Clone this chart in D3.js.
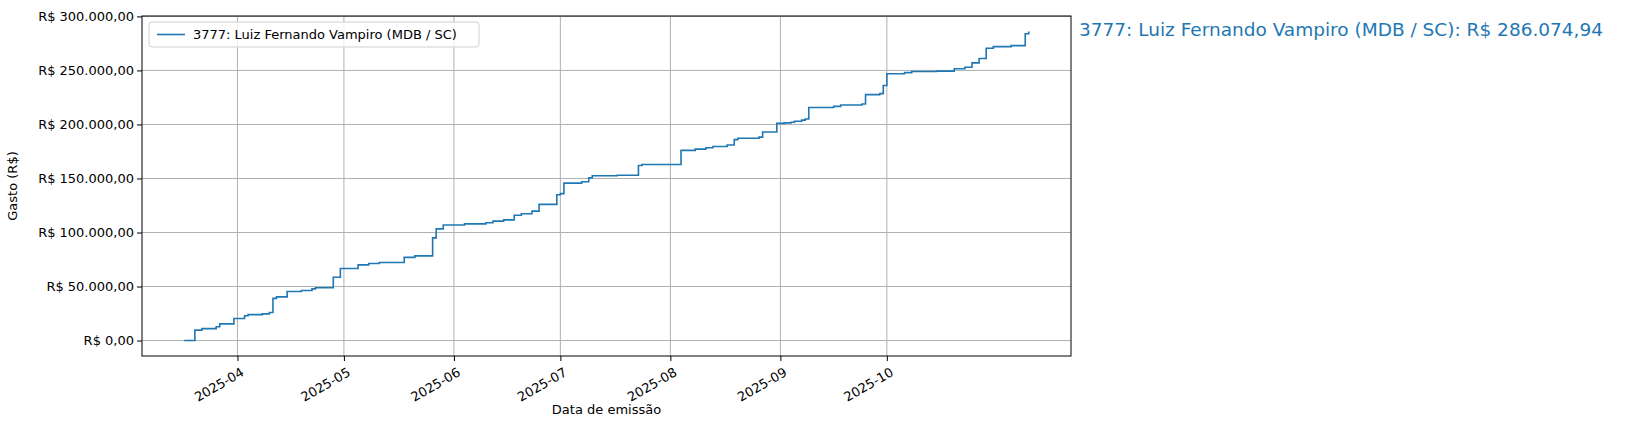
<!DOCTYPE html>
<html>
<head>
<meta charset="utf-8">
<script src="https://cdn.jsdelivr.net/npm/d3@7"></script>
<style>
  body { margin: 0; background: #fff; }
  text { font-family: "DejaVu Sans", sans-serif; }
</style>
</head>
<body>
<div id="chart-area"></div>
<script>
// Data (cumulative spending, step after)
var dates = ["2025-03-17","2025-03-20","2025-03-22","2025-03-26","2025-03-27","2025-03-31",
  "2025-04-03","2025-04-04","2025-04-08","2025-04-10","2025-04-11","2025-04-12","2025-04-15",
  "2025-04-19","2025-04-22","2025-04-23","2025-04-28","2025-04-30",
  "2025-05-05","2025-05-08","2025-05-11","2025-05-18","2025-05-21","2025-05-26","2025-05-27","2025-05-29",
  "2025-06-04","2025-06-10","2025-06-12","2025-06-15","2025-06-18","2025-06-20","2025-06-23","2025-06-25","2025-06-30",
  "2025-07-01","2025-07-02","2025-07-07","2025-07-09","2025-07-10","2025-07-17","2025-07-23","2025-07-24",
  "2025-08-04","2025-08-08","2025-08-11","2025-08-13","2025-08-17","2025-08-19","2025-08-20","2025-08-26","2025-08-27","2025-08-31",
  "2025-09-02","2025-09-04","2025-09-05","2025-09-07","2025-09-08","2025-09-09","2025-09-16","2025-09-18","2025-09-24","2025-09-25","2025-09-29","2025-09-30",
  "2025-10-01","2025-10-06","2025-10-08","2025-10-15","2025-10-20","2025-10-23","2025-10-25","2025-10-27","2025-10-29","2025-10-31",
  "2025-11-05","2025-11-09","2025-11-10"];
var values = [0,9600,11000,12700,15400,20400,
  23000,24000,24700,26000,39000,40400,45400,
  46300,47800,48800,58600,66700,
  70000,71300,72200,77000,78400,95000,103400,107000,
  108000,109000,110500,111700,116000,117300,119800,126000,135000,
  136000,145700,147000,150600,152500,153000,162000,163000,
  176000,177200,178400,179600,181000,186000,187200,188300,193000,201000,
  201500,202000,203000,204000,205000,215700,216700,218000,219000,227600,228500,236000,
  246900,248000,249000,249400,251500,253000,257000,261000,270500,272000,
  273000,284000,286074.94];
var seriesName = "3777: Luiz Fernando Vampiro (MDB / SC)";
var totalLabel = "R$ 286.074,94";
var yTicks = [0,50000,100000,150000,200000,250000,300000];

var parse = d3.timeParse("%Y-%m-%d");
var data = dates.map((d, i) => ({ date: parse(d), value: values[i] }));

var W = 1641, H = 435;
var margin = { top: 16, right: 570, bottom: 79, left: 142 };
var width = W - margin.left - margin.right;
var height = H - margin.top - margin.bottom;

var svg = d3.select("#chart-area").append("svg")
  .attr("width", W).attr("height", H);
var g = svg.append("g")
  .attr("transform", "translate(" + margin.left + "," + margin.top + ")");

var x0 = d3.min(data, d => d.date), x1 = d3.max(data, d => d.date);
var padT = (x1 - x0) * 0.05;
var x = d3.scaleTime()
  .domain([new Date(+x0 - padT), new Date(+x1 + padT)])
  .range([0, width]);
var vMax = d3.max(values), padV = vMax * 0.05;
var y = d3.scaleLinear()
  .domain([-padV, vMax + padV])
  .range([height, 0]);

var fmtNum = d3.formatLocale({ decimal: ",", thousands: ".", grouping: [3], currency: ["R$ ", ""] }).format(",.2f");
var xTicks = d3.range(3, 10).map(m => new Date(2025, m, 1));

// grid
g.append("g").selectAll("line").data(xTicks).enter().append("line")
  .attr("x1", d => x(d)).attr("x2", d => x(d)).attr("y1", 0).attr("y2", height)
  .attr("stroke", "#b0b0b0").attr("stroke-width", 1);
g.append("g").selectAll("line").data(yTicks).enter().append("line")
  .attr("y1", d => y(d)).attr("y2", d => y(d)).attr("x1", 0).attr("x2", width)
  .attr("stroke", "#b0b0b0").attr("stroke-width", 1);

// axes
var bottomAxis = d3.axisBottom(x).tickValues(xTicks).tickFormat(d3.timeFormat("%Y-%m")).tickSizeOuter(0).tickSize(5);
g.append("g")
  .attr("transform", "translate(0," + height + ")")
  .call(bottomAxis)
  .call(a => a.select(".domain").remove())
  .selectAll("text")
  .attr("font-size", "13px")
  .attr("font-family", "DejaVu Sans")
  .attr("fill", "#000")
  .attr("text-anchor", "end")
  .attr("dy", "0")
  .attr("transform", "translate(3,12) rotate(-30)");

var leftAxis = d3.axisLeft(y).tickValues(yTicks).tickFormat(d => "R$ " + fmtNum(d)).tickSize(5).tickSizeOuter(0);
g.append("g")
  .call(leftAxis)
  .call(a => a.select(".domain").remove())
  .selectAll("text")
  .attr("font-size", "13px")
  .attr("font-family", "DejaVu Sans")
  .attr("fill", "#000");

g.append("rect").attr("width", width).attr("height", height)
  .attr("fill", "none").attr("stroke", "#000").attr("stroke-width", 1);

// line
var line = d3.line().curve(d3.curveStepAfter)
  .x(d => x(d.date)).y(d => y(d.value));
g.append("path").datum(data)
  .attr("d", line)
  .attr("fill", "none")
  .attr("stroke", "#1f77b4")
  .attr("stroke-width", 1.6);

// labels
g.append("text")
  .attr("x", width / 2).attr("y", height + 58)
  .attr("text-anchor", "middle").attr("font-size", "13px")
  .text("Data de emissão");
g.append("text")
  .attr("transform", "rotate(-90)")
  .attr("x", -height / 2).attr("y", -125)
  .attr("text-anchor", "middle").attr("font-size", "13px")
  .text("Gasto (R$)");

// legend
var lg = g.append("g").attr("transform", "translate(7,6)");
lg.append("rect").attr("width", 330).attr("height", 25).attr("rx", 3)
  .attr("fill", "#fff").attr("fill-opacity", 0.8).attr("stroke", "#d0d0d0");
lg.append("line").attr("x1", 8).attr("x2", 36).attr("y1", 12.5).attr("y2", 12.5)
  .attr("stroke", "#1f77b4").attr("stroke-width", 1.6);
lg.append("text").attr("x", 44).attr("y", 17).attr("font-size", "13px").text(seriesName);

// right annotation
svg.append("text")
  .attr("x", margin.left + width + 8).attr("y", 36)
  .attr("font-size", "18.5px").attr("fill", "#1f77b4")
  .text(seriesName + ": " + totalLabel);
</script>
</body>
</html>
